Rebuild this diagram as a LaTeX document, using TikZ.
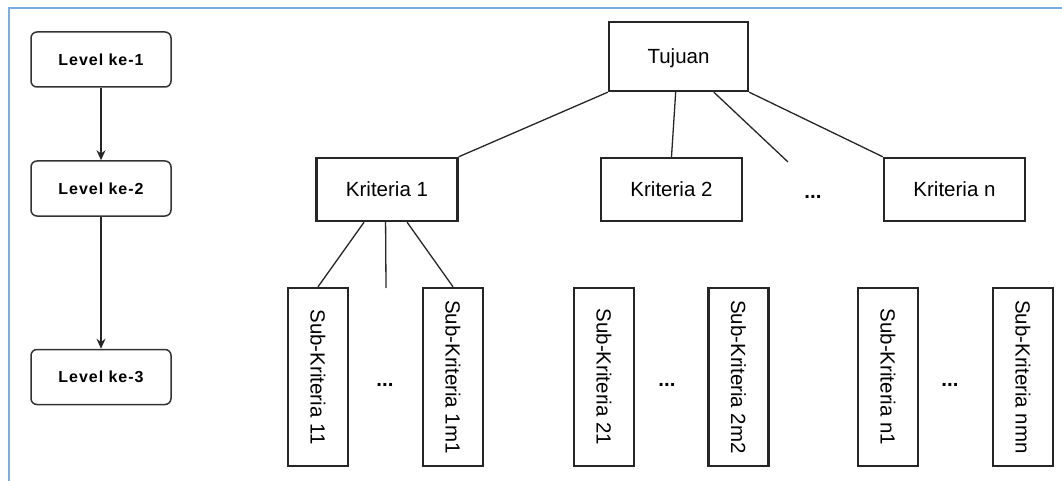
\documentclass[tikz,border=0pt]{standalone}
\usepackage{fontspec}
\setmainfont{Liberation Sans}
\newfontfamily\levelfont[LetterSpace=6]{Liberation Sans}
\usetikzlibrary{arrows.meta,calc}
\definecolor{frameblue}{RGB}{122,174,228}

\begin{document}
\begin{tikzpicture}[x=1pt,y=1pt,
		level/.style={draw=black!80, line width=1.5pt, rounded corners=6pt, minimum width=140pt, minimum height=55pt, inner sep=0pt, font=\levelfont\bfseries\fontsize{16}{19}\selectfont},
		kbox/.style={draw=black!85, line width=2.4pt, minimum width=141pt, minimum height=63pt, inner sep=0pt, text height=14.7pt, text depth=0pt, font=\fontsize{20.5}{24}\selectfont},
		subbox/.style={draw=black!85, line width=2.4pt, minimum width=60pt, minimum height=178pt, inner sep=0pt, font=\fontsize{20.5}{24}\selectfont},
		dots/.style={anchor=base, inner sep=0pt, font=\bfseries\fontsize{20.5}{24}\selectfont},
		link/.style={draw=black!85, line width=1.3pt}]
	\useasboundingbox (0,0) rectangle (1062,-481);
	\draw [frameblue, line width=2pt] (1062,-8) -- (9,-8) -- (9,-481);
	% levels
	\node [level] (lv1) at (101,-59.5) {Level ke-1};
	\node [level] (lv2) at (101,-188.5) {Level ke-2};
	\node [level] (lv3) at (101,-377) {Level ke-3};
	\draw [link,-{Stealth[length=10pt,width=9pt]}] (lv1) -- (lv2);
	\draw [link,-{Stealth[length=10pt,width=9pt]}] (lv2) -- (lv3);
	% goal and criteria
	\node [kbox, minimum width=139pt, minimum height=69pt] (tuj) at (678.5,-56.5) {Tujuan};
	\node [kbox] (k1) at (387,-189.5) {Kriteria 1};
	\node [kbox] (k2) at (671.5,-189.5) {Kriteria 2};
	\node [dots] (kdots) at (813,-198) {...};
	\node [kbox] (kn) at (954.5,-189.5) {Kriteria n};
	\coordinate (tdots) at (788,-162);
	\draw [link] (tuj.south west) -- (k1.north east);
	\draw [link] ($(tuj.south west)!0.48!(tuj.south east)$) -- (k2.north);
	\draw [link] ($(tuj.south west)!0.75!(tuj.south east)$) -- (tdots);
	\draw [link] (tuj.south east) -- (kn.north west);
	% sub-criteria
	\node [subbox] (s11) at (318,-377) {\rotatebox{-90}{Sub-Kriteria 11}};
	\node [dots] (sdots1) at (385,-386) {...};
	\node [subbox] (s1m) at (453,-377) {\rotatebox{-90}{Sub-Kriteria 1m1}};
	\node [subbox] (s21) at (604,-377) {\rotatebox{-90}{Sub-Kriteria 21}};
	\node [dots] (sdots2) at (667,-386) {...};
	\node [subbox] (s2m) at (738.5,-377) {\rotatebox{-90}{Sub-Kriteria 2m2}};
	\node [subbox] (sn1) at (888,-377) {\rotatebox{-90}{Sub-Kriteria n1}};
	\node [dots] (sdots3) at (950,-386) {...};
	\node [subbox] (snm) at (1023,-377) {\rotatebox{-90}{Sub-Kriteria nmn}};
	\coordinate (kmid) at (386,-288);
	\draw [link] ($(k1.south west)!0.34!(k1.south east)$) -- (s11.north);
	\draw [link] ($(k1.south west)!0.49!(k1.south east)$) -- (kmid);
	\draw [link] ($(k1.south west)!0.64!(k1.south east)$) -- (s1m.north);
\end{tikzpicture}
\end{document}
